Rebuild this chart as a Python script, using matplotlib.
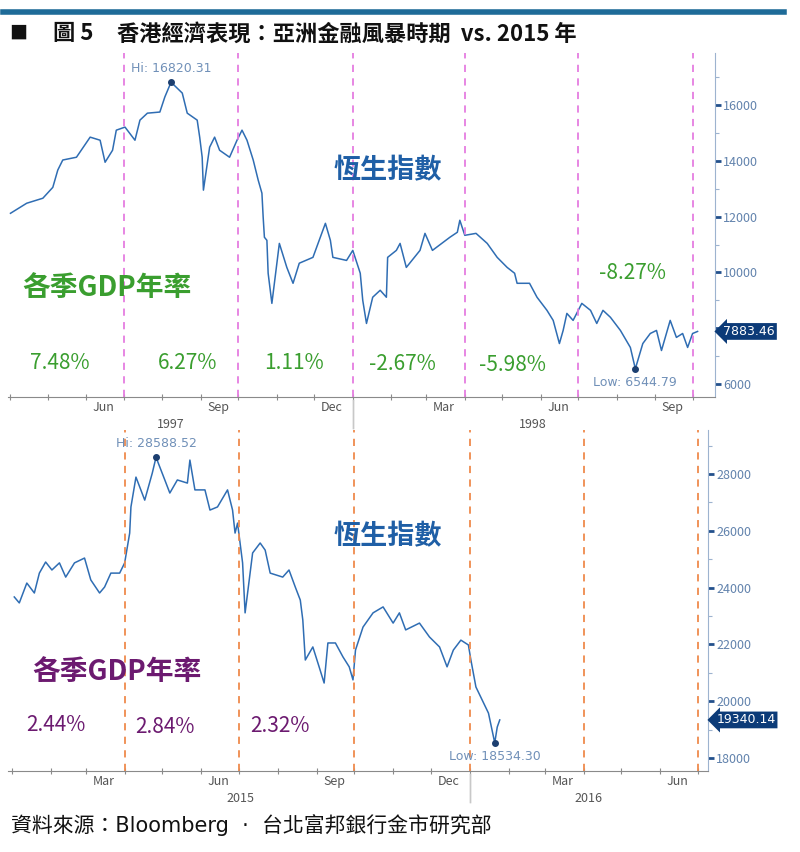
import matplotlib
matplotlib.use('Agg')
import matplotlib.pyplot as plt
import matplotlib.dates as mdates
from matplotlib.lines import Line2D
import numpy as np
import pandas as pd

plt.rcParams['font.family'] = ['Noto Sans CJK TC', 'DejaVu Sans']

# 恆生指數 1997-1998
hsi97_dates = ['1997-04-01', '1997-04-14', '1997-04-27', '1997-05-05', '1997-05-09', '1997-05-13',
               '1997-05-24', '1997-06-04', '1997-06-12', '1997-06-16', '1997-06-22', '1997-06-25',
               '1997-07-02', '1997-07-10', '1997-07-14', '1997-07-20', '1997-07-30', '1997-08-03',
               '1997-08-08', '1997-08-17', '1997-08-21', '1997-08-29', '1997-08-31', '1997-09-02',
               '1997-09-03', '1997-09-08', '1997-09-12', '1997-09-16', '1997-09-24', '1997-09-30',
               '1997-10-04', '1997-10-08', '1997-10-13', '1997-10-17', '1997-10-20', '1997-10-21',
               '1997-10-22', '1997-10-24', '1997-10-25', '1997-10-28', '1997-11-03', '1997-11-09',
               '1997-11-14', '1997-11-19', '1997-11-30', '1997-12-05', '1997-12-10', '1997-12-14',
               '1997-12-16', '1997-12-27', '1998-01-01', '1998-01-07', '1998-01-09', '1998-01-12',
               '1998-01-17', '1998-01-23', '1998-01-28', '1998-01-29', '1998-02-05', '1998-02-08',
               '1998-02-13', '1998-02-24', '1998-02-28', '1998-03-06', '1998-03-20', '1998-03-26',
               '1998-03-28', '1998-04-01', '1998-04-10', '1998-04-19', '1998-04-27', '1998-05-05',
               '1998-05-11', '1998-05-13', '1998-05-23', '1998-05-29', '1998-06-06', '1998-06-11',
               '1998-06-16', '1998-06-19', '1998-06-22', '1998-06-27', '1998-07-04', '1998-07-11',
               '1998-07-16', '1998-07-21', '1998-07-27', '1998-08-04', '1998-08-12', '1998-08-16',
               '1998-08-22', '1998-08-28', '1998-09-02', '1998-09-06', '1998-09-13', '1998-09-18',
               '1998-09-23', '1998-09-27', '1998-10-01', '1998-10-05']
hsi97_vals = [12120, 12480, 12660, 13050, 13670, 14030,
              14130, 14850, 14740, 13950, 14380, 15100,
              15210, 14740, 15460, 15710, 15750, 16290,
              16820.31, 16430, 15710, 15460, 14850, 14130,
              12950, 14490, 14850, 14380, 14130, 14740,
              15100, 14740, 14030, 13310, 12840, 11980,
              11260, 11150, 9970, 8890, 11040, 10180,
              9610, 10330, 10540, 11150, 11760, 11150,
              10540, 10430, 10790, 9970, 9000, 8170,
              9110, 9360, 9110, 10540, 10790, 11040,
              10180, 10790, 11400, 10790, 11260, 11440,
              11870, 11330, 11400, 11040, 10540, 10180,
              9970, 9610, 9610, 9110, 8640, 8280,
              7450, 7920, 8530, 8280, 8890, 8640,
              8170, 8640, 8390, 7920, 7310, 6544.79,
              7450, 7810, 7920, 7200, 8280, 7670,
              7810, 7310, 7810, 7883.46]

# 恆生指數 2015-2016
hsi15_dates = ['2015-01-03', '2015-01-07', '2015-01-13', '2015-01-19', '2015-01-23', '2015-01-28',
               '2015-02-02', '2015-02-08', '2015-02-13', '2015-02-20', '2015-02-28', '2015-03-05',
               '2015-03-12', '2015-03-16', '2015-03-21', '2015-03-28', '2015-04-01', '2015-04-05',
               '2015-04-06', '2015-04-10', '2015-04-17', '2015-04-23', '2015-04-26', '2015-05-03',
               '2015-05-07', '2015-05-13', '2015-05-21', '2015-05-23', '2015-05-27', '2015-06-04',
               '2015-06-08', '2015-06-14', '2015-06-22', '2015-06-26', '2015-06-28', '2015-06-30',
               '2015-07-04', '2015-07-06', '2015-07-12', '2015-07-18', '2015-07-22', '2015-07-26',
               '2015-08-05', '2015-08-10', '2015-08-15', '2015-08-19', '2015-08-21', '2015-08-23',
               '2015-08-29', '2015-09-03', '2015-09-07', '2015-09-10', '2015-09-16', '2015-09-22',
               '2015-09-27', '2015-09-30', '2015-10-02', '2015-10-08', '2015-10-16', '2015-10-24',
               '2015-11-01', '2015-11-06', '2015-11-11', '2015-11-22', '2015-11-30', '2015-12-08',
               '2015-12-14', '2015-12-19', '2015-12-25', '2015-12-31', '2016-01-02', '2016-01-06',
               '2016-01-11', '2016-01-16', '2016-01-21', '2016-01-23', '2016-01-25']
hsi15_vals = [23670, 23460, 24160, 23810, 24510, 24900,
              24620, 24870, 24370, 24870, 25040, 24270,
              23810, 24020, 24510, 24510, 24870, 25920,
              26840, 27890, 27080, 28030, 28588.52, 27790,
              27330, 27790, 27680, 28490, 27440, 27440,
              26730, 26840, 27440, 26730, 25920, 26270,
              24870, 23110, 25220, 25570, 25320, 24510,
              24370, 24620, 24020, 23560, 22860, 21450,
              21910, 21210, 20640, 22050, 22050, 21560,
              21210, 20750, 21800, 22610, 23110, 23320,
              22750, 23110, 22510, 22750, 22260, 21910,
              21210, 21800, 22150, 21980, 21450, 20500,
              20040, 19580, 18534.30, 19090, 19340.14]

# 各季GDP年率
gdp97 = ['7.48%', '6.27%', '1.11%', '-2.67%', '-5.98%', '-8.27%']
gdp15 = ['2.44%', '2.84%', '2.32%']

quarters97 = ['1997-07-01', '1997-10-01', '1998-01-01', '1998-04-01', '1998-07-01', '1998-10-01']
quarters15 = ['2015-04-01', '2015-07-01', '2015-10-01', '2016-01-01', '2016-04-01', '2016-07-01']

W, H = 800, 852
LINE = '#2f6db3'
TICKC = '#6283ad'


def px(x, y):
    return x / W, 1 - y / H


def draw_panel(ax, dates, vals, xlim, ylim, ymaj, ymin, mlabels, years, qlines, qcolor):
    d = pd.to_datetime(dates)
    ax.patch.set_facecolor('none')
    ax.plot(d, vals, color=LINE, lw=1.1)
    for q in qlines:
        ax.axvline(pd.Timestamp(q), color=qcolor, lw=1.3, ls=(0, (4, 3.5)))
    ax.set_xlim(pd.Timestamp(xlim[0]), pd.Timestamp(xlim[1]))
    ax.set_ylim(*ylim)
    for s in ['top', 'left']:
        ax.spines[s].set_visible(False)
    ax.spines['bottom'].set_color('#8a8a8a')
    ax.spines['right'].set_color('#9db3cf')
    ax.yaxis.tick_right()
    ax.set_yticks([y for y, _ in ymaj])
    ax.set_yticklabels([t for _, t in ymaj])
    ax.set_yticks(ymin, minor=True)
    ax.tick_params(axis='y', which='major', direction='out', length=4, width=2,
                   color='#23508c', labelcolor=TICKC, labelsize=9, pad=2)
    ax.tick_params(axis='y', which='minor', direction='out', length=3, width=0.8, color='#9db3cf')
    # month ticks
    ax.xaxis.set_minor_locator(mdates.MonthLocator())
    ax.set_xticks([pd.Timestamp(m) for m, _ in mlabels])
    ax.set_xticklabels([t for _, t in mlabels])
    ax.tick_params(axis='x', which='major', length=0, labelsize=9, labelcolor='#555555', pad=3)
    ax.tick_params(axis='x', which='minor', direction='inout', length=4, width=0.8, color='#8a8a8a')
    for ystr, xc, sep in years:
        ax.annotate(ystr, xy=(pd.Timestamp(xc), 0), xycoords=('data', 'axes fraction'),
                    xytext=(0, -15), textcoords='offset points', ha='center', va='top',
                    fontsize=9, color='#555555')
        ax.plot([pd.Timestamp(sep)] * 2, [-0.01, -0.09], transform=ax.get_xaxis_transform(),
                color='#c8c8c8', lw=1, clip_on=False)
    return d


fig = plt.figure(figsize=(8, 8.52), dpi=100)

# title bar
fig.add_artist(Line2D([3 / W, 784 / W], [1 - 12 / H] * 2, color='#1e6b98', lw=4))
fig.text(*px(9, 34), '■', fontsize=13, va='center', ha='left', color='#111111')
fig.text(*px(53, 34), '圖 5', fontsize=16, fontweight='bold', va='center', ha='left', color='#111111')
fig.text(*px(117, 34), '香港經濟表現：亞洲金融風暴時期  vs. 2015 年', fontsize=16,
         fontweight='bold', va='center', ha='left', color='#111111')

ax1 = fig.add_axes([8 / W, 1 - 397 / H, 707 / W, 344 / H])
d1 = draw_panel(ax1, hsi97_dates, hsi97_vals, ('1997-03-30', '1998-10-19'), (5533, 17867),
                [(6000, '6000'), (8000, ''), (10000, '10000'), (12000, '12000'),
                 (14000, '14000'), (16000, '16000')],
                range(7000, 17001, 2000),
                [('1997-06-15', 'Jun'), ('1997-09-15', 'Sep'), ('1997-12-15', 'Dec'),
                 ('1998-03-15', 'Mar'), ('1998-06-15', 'Jun'), ('1998-09-15', 'Sep')],
                [('1997', '1997-08-08', '1998-01-01'), ('1998', '1998-05-26', '1998-01-01')],
                quarters97, '#e57de0')

ax2 = fig.add_axes([8 / W, 1 - 771 / H, 700 / W, 341 / H])
d2 = draw_panel(ax2, hsi15_dates, hsi15_vals, ('2014-12-29', '2016-07-09'), (17542, 29549),
                [(v, str(v)) for v in range(18000, 28001, 2000)],
                range(19000, 29001, 2000),
                [('2015-03-15', 'Mar'), ('2015-06-15', 'Jun'), ('2015-09-15', 'Sep'),
                 ('2015-12-15', 'Dec'), ('2016-03-15', 'Mar'), ('2016-06-15', 'Jun')],
                [('2015', '2015-07-02', '2016-01-01'), ('2016', '2016-04-05', '2016-01-01')],
                quarters15, '#ef8a4c')

# hi / low markers, last price tag
for ax, d, vals in [(ax1, d1, hsi97_vals), (ax2, d2, hsi15_vals)]:
    v = np.array(vals)
    ih, il = int(v.argmax()), int(v.argmin())
    ax.plot([d[ih], d[il]], [v[ih], v[il]], 'o', color='#1c3f70', ms=4)
    ax.annotate('Hi: %.2f' % v[ih], (d[ih], v[ih]), xytext=(0, 5), textcoords='offset points',
                ha='center', va='bottom', fontsize=9, color='#7090b8', family='DejaVu Sans')
    ax.annotate('Low: %.2f' % v[il], (d[il], v[il]), xytext=(0, -5), textcoords='offset points',
                ha='center', va='top', fontsize=9, color='#7090b8', family='DejaVu Sans')
    ax.annotate('%.2f' % v[-1], xy=(1, v[-1]), xycoords=('axes fraction', 'data'),
                xytext=(6, 0), textcoords='offset points', ha='left', va='center',
                fontsize=9, color='white', family='DejaVu Sans',
                bbox=dict(boxstyle='larrow,pad=0.15', fc='#0c3b78', ec='none'))

# captions
fig.text(*px(388, 170), '恆生指數', fontsize=19.5, fontweight='bold', color='#1f5fa6', ha='center', va='center')
fig.text(*px(388, 536), '恆生指數', fontsize=19.5, fontweight='bold', color='#1f5fa6', ha='center', va='center')

green = '#3a9e2f'
fig.text(*px(22, 288), '各季GDP年率', fontsize=20, fontweight='bold', color=green, ha='left', va='center')
pos97 = [(60, 363), (188, 363), (294, 363), (402, 364), (513, 365), (632, 273)]
for s, (x, y) in zip(gdp97, pos97):
    fig.text(*px(x, y), s, fontsize=15, fontweight='medium', color=green, ha='center', va='center')

purple = '#6c1a70'
fig.text(*px(32, 672), '各季GDP年率', fontsize=20, fontweight='bold', color=purple, ha='left', va='center')
pos15 = [(56, 725), (165, 727), (280, 726)]
for s, (x, y) in zip(gdp15, pos15):
    fig.text(*px(x, y), s, fontsize=15, fontweight='medium', color=purple, ha='center', va='center')

fig.text(*px(11, 825), '資料來源：Bloomberg  ‧  台北富邦銀行金市研究部', fontsize=15,
         family=['DejaVu Sans', 'Noto Sans CJK TC'], color='#111111', ha='left', va='center')

fig.savefig('out.png', dpi=100)
